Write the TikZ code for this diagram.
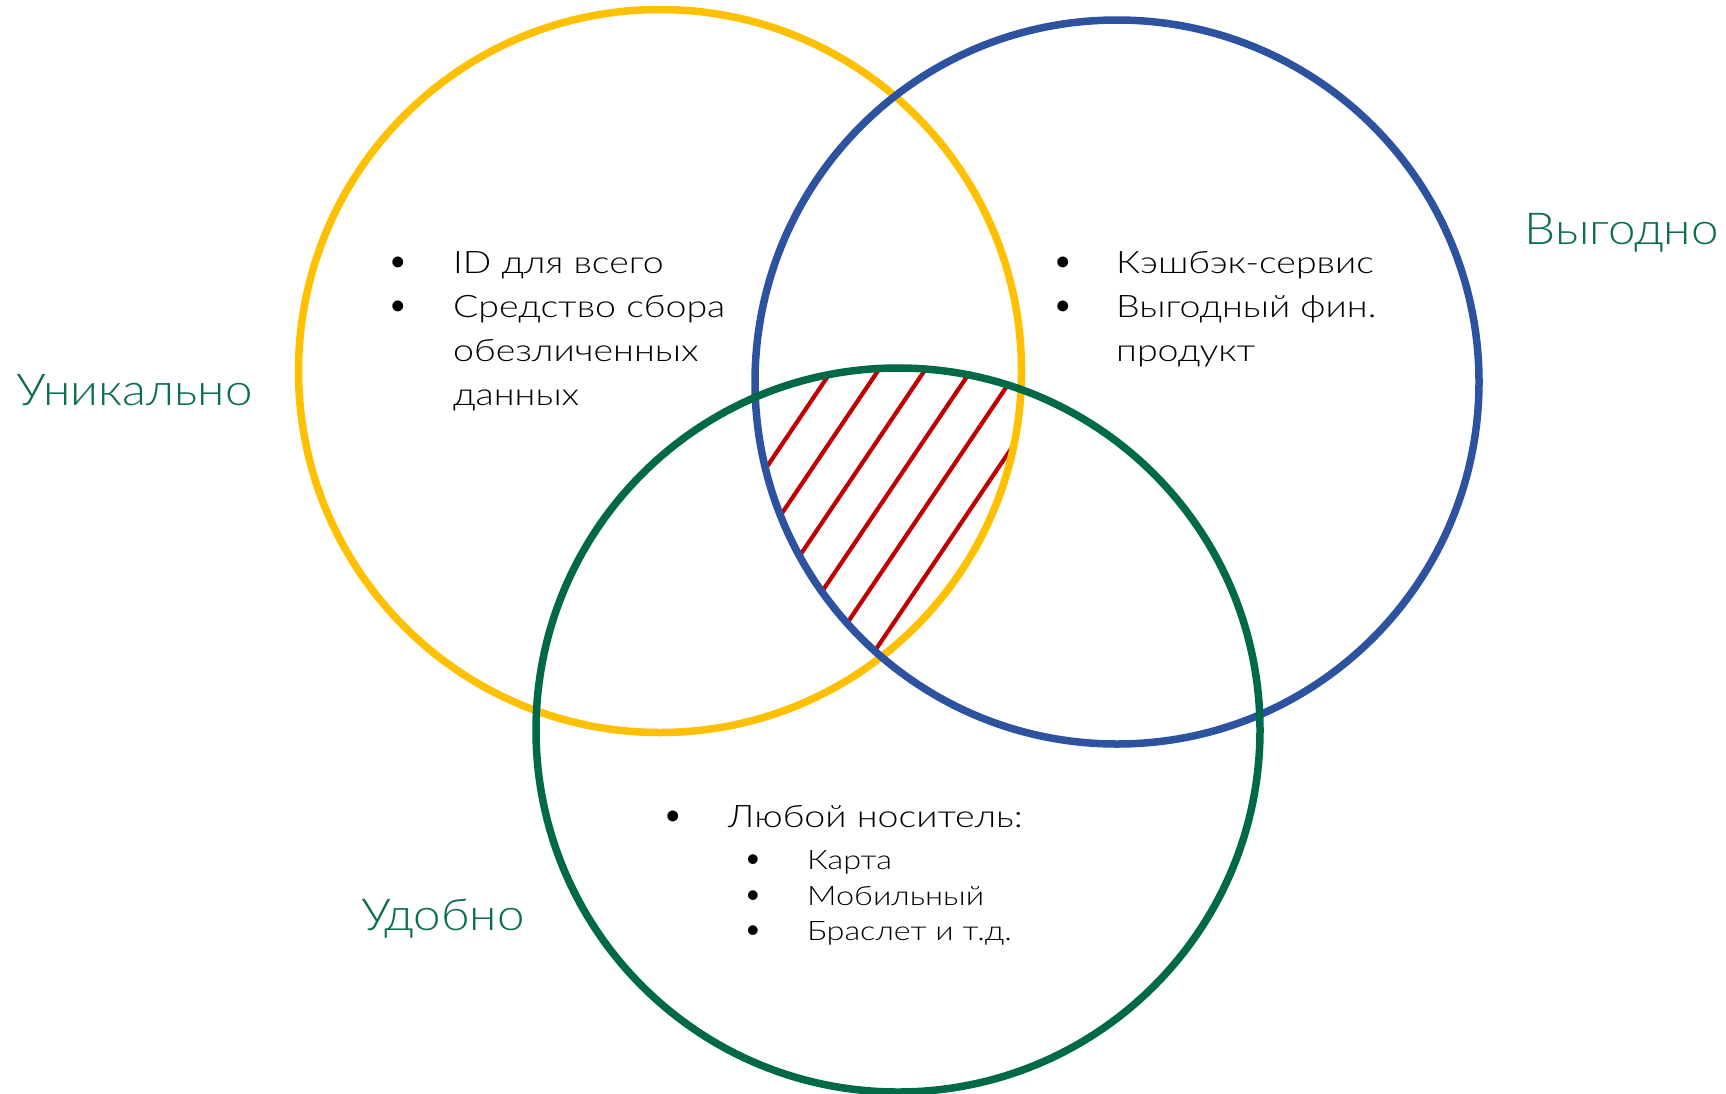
\documentclass[tikz,border=0pt]{standalone}
\usepackage{fontspec}
\setmainfont{Lato Light}
\newfontfamily\bodyfont{Lato Light}[FakeStretch=1.21]
\newfontfamily\labelfont{Lato Light}[FakeStretch=1.12]
\definecolor{cyellow}{HTML}{FFC000}
\definecolor{cblue}{HTML}{2C52A0}
\definecolor{cgreen}{HTML}{006A48}
\definecolor{lgreen}{HTML}{0C6E4E}
\definecolor{cred}{HTML}{C00000}
\tikzset{
  ring/.style={line width=7.5pt},
  hatchline/.style={draw=cred, line width=4.2pt},
  biglabel/.style={anchor=base west, inner sep=0pt, text=lgreen, font=\labelfont\fontsize{44}{53}\selectfont},
  itemtext/.style={anchor=base west, inner sep=0pt, font=\bodyfont\fontsize{31}{44}\selectfont},
  subtext/.style={anchor=base west, inner sep=0pt, font=\bodyfont\fontsize{26.8}{35.5}\selectfont},
  bul/.style={anchor=base, inner sep=0pt, font=\fontsize{37}{44}\selectfont},
  subbul/.style={anchor=base, inner sep=0pt, font=\fontsize{33}{35.5}\selectfont},
}
\begin{document}
\begin{tikzpicture}[x=1pt,y=-1pt]
\useasboundingbox (0,0) rectangle (1726,1093);
\fill[white] (0,0) rectangle (1726,1093);
\coordinate (cy) at (660,371);
\coordinate (cb) at (1117,382);
\coordinate (cg) at (898,730);
% hatch of the triple intersection
\begin{scope}
  \clip (cy) circle[radius=361.5pt];
  \clip (cb) circle[radius=362pt];
  \clip (cg) circle[radius=362pt];
  \foreach \k in {0,...,5}{
    \pgfmathsetmacro\cc{896.9+38.5*\k}
    \draw[hatchline] ({0.829*\cc-0.559*400},{0.559*\cc+0.829*400}) -- ({0.829*\cc+0.559*400},{0.559*\cc-0.829*400});
  }
\end{scope}
% circles
\draw[ring, cyellow] (cy) circle[radius=361.5pt];
\draw[ring, cblue] (cb) circle[radius=362pt];
\draw[ring, cgreen] (cg) circle[radius=362pt];
% labels
\node[biglabel] (lu) at (16.7,405) {Уникально};
\node[biglabel] (lv) at (1524.6,244) {Выгодно};
\node[biglabel] (ld) at (361,930) {Удобно};
% list 1
\node[bul] (b11) at (398,273) {•};
\node[bul] (b12) at (398,317) {•};
\node[itemtext] (t11) at (453,273) {ID для всего};
\node[itemtext] (t12) at (453,317) {Средство сбора};
\node[itemtext] (t13) at (453,361) {обезличенных};
\node[itemtext] (t14) at (453,405) {данных};
% list 2
\node[bul] (b21) at (1063,273) {•};
\node[bul] (b22) at (1063,317) {•};
\node[itemtext] (t21) at (1116,273) {Кэшбэк-сервис};
\node[itemtext] (t22) at (1116,317) {Выгодный фин.};
\node[itemtext] (t23) at (1116,361) {продукт};
% list 3
\node[bul] (b31) at (673,827) {•};
\node[itemtext] (t3) at (728,827) {Любой носитель:};
\node[subbul] (s1) at (753,869) {•};
\node[subbul] (s2) at (753,905) {•};
\node[subbul] (s3) at (753,940) {•};
\node[subtext] (t41) at (807,869) {Карта};
\node[subtext] (t42) at (807,905) {Мобильный};
\node[subtext] (t43) at (807,940) {Браслет и т.д.};
\end{tikzpicture}
\end{document}
